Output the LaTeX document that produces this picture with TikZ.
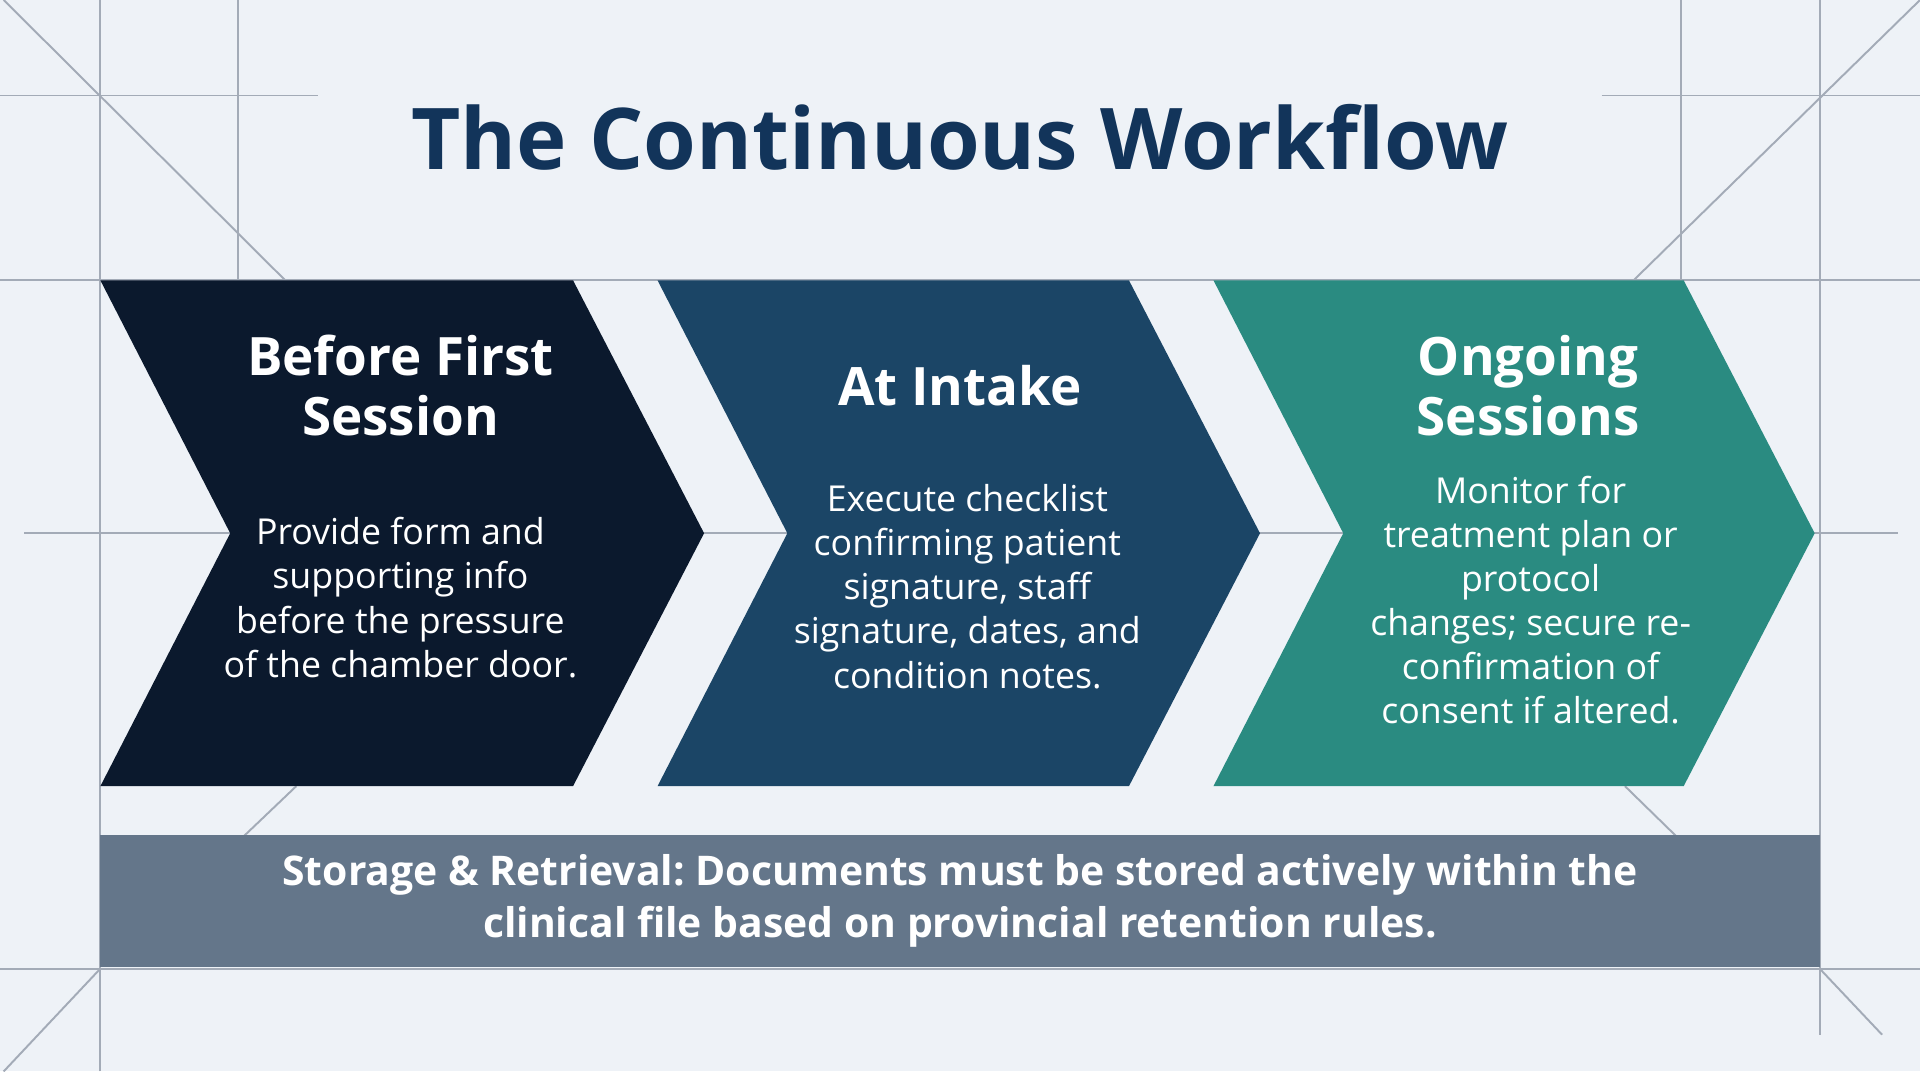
\documentclass[tikz,border=0pt]{standalone}
\usepackage{fontspec}
\setmainfont{Open Sans}
\usepackage{xcolor}
\usetikzlibrary{backgrounds,positioning}
\frenchspacing
\definecolor{paper}{HTML}{EEF2F7}
\definecolor{gridgray}{HTML}{A3ABB7}
\definecolor{navy}{HTML}{0B192D}
\definecolor{steel}{HTML}{1B4566}
\definecolor{tealstep}{HTML}{2A8B81}
\definecolor{slate}{HTML}{64768A}
\definecolor{headblue}{HTML}{12345A}
\tikzstyle{gridline}=[draw=gridgray, line width=0.45pt]
\tikzstyle{chev1}=[fill=navy]
\tikzstyle{chev2}=[fill=steel]
\tikzstyle{chev3}=[fill=tealstep]
\tikzstyle{maintitle}=[text=headblue, inner sep=0pt, font=\fontsize{19.8}{24}\selectfont\bfseries]
\tikzstyle{head}=[text=white, align=center, inner sep=0pt, font=\fontsize{12.3}{13.9}\selectfont\bfseries]
\tikzstyle{body}=[text=white, align=center, inner sep=0pt, font=\fontsize{8.3}{10.25}\selectfont]
\tikzstyle{banner}=[rectangle, fill=slate, text=white, align=center, minimum width=14.04cm, minimum height=1.08cm, inner sep=0pt, font=\fontsize{9.5}{12.1}\selectfont\bfseries]

\begin{document}
\begin{tikzpicture}
\useasboundingbox (0,0) rectangle (15.68,8.75);
%Title
\node[maintitle](ttl) at (7.84,7.63){The Continuous Workflow};
%Chevrons
\fill[chev1] (0.82,6.46) -- (4.68,6.46) -- (5.75,4.395) -- (4.68,2.33) -- (0.82,2.33) -- (1.88,4.395) -- cycle;
\fill[chev2] (5.37,6.46) -- (9.22,6.46) -- (10.29,4.395) -- (9.22,2.33) -- (5.37,2.33) -- (6.43,4.395) -- cycle;
\fill[chev3] (9.91,6.46) -- (13.75,6.46) -- (14.82,4.395) -- (13.75,2.33) -- (9.91,2.33) -- (10.97,4.395) -- cycle;
%Row One
\node[head] (h1) at (3.27,5.60){Before First\\Session};
\node[body] (b1) at (3.27,3.87){Provide form and\\supporting info\\before the pressure\\of the chamber door.};
\node[head] (h2) at (7.84,5.60){At Intake};
\node[body] (b2) at (7.90,3.96){Execute checklist\\confirming patient\\signature, staff\\signature, dates, and\\condition notes.};
\node[head] (h3) at (12.48,5.60){Ongoing\\Sessions};
\node[body] (b3) at (12.50,3.85){Monitor for\\treatment plan or\\protocol\\changes; secure re-\\confirmation of\\consent if altered.};
%Row Two
\node[banner] (store) at (7.84,1.39){Storage \& Retrieval: Documents must be stored actively within the\\clinical file based on provincial retention rules.};
%background
\begin{scope}[on background layer]
\fill[paper](0,0) rectangle(15.68,8.75);
\end{scope}

\begin{scope}[on background layer]
\draw[gridline](0.82,0) -- (0.82,8.75);
\draw[gridline](1.94,8.75) -- (1.94,6.46);
\draw[gridline](13.73,8.75) -- (13.73,6.46);
\draw[gridline](14.86,8.75) -- (14.86,0.30);
\draw[gridline](0,7.97) -- (2.60,7.97);
\draw[gridline](13.08,7.97) -- (15.68,7.97);
\draw[gridline](0,6.46) -- (15.68,6.46);
\draw[gridline](0.20,4.395) -- (15.50,4.395);
\draw[gridline](0,0.84) -- (15.68,0.84);
\end{scope}

\begin{scope}[on background layer]
\draw[gridline](0.03,8.75) -- (2.33,6.46);
\draw[gridline](15.68,8.75) -- (13.34,6.46);
\draw[gridline](2.42,2.33) -- (1.99,1.92);
\draw[gridline](13.27,2.33) -- (13.69,1.92);
\draw[gridline](0.82,0.84) -- (0.03,0);
\draw[gridline](14.86,0.84) -- (15.37,0.30);
\end{scope}
\end{tikzpicture}
\end{document}
